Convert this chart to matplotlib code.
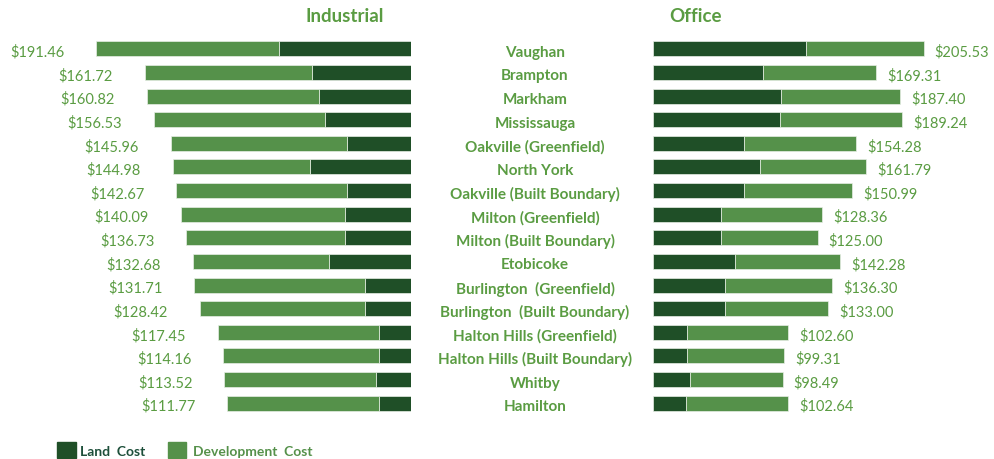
import numpy as np
import matplotlib.pyplot as plt
from matplotlib.patches import Rectangle

plt.rcParams['font.family'] = ['Lato', 'DejaVu Sans']

# data, per municipality, top to bottom
cities = ['Vaughan', 'Brampton', 'Markham', 'Mississauga', 'Oakville (Greenfield)',
          'North York', 'Oakville (Built Boundary)', 'Milton (Greenfield)',
          'Milton (Built Boundary)', 'Etobicoke', 'Burlington  (Greenfield)',
          'Burlington  (Built Boundary)', 'Halton Hills (Greenfield)',
          'Halton Hills (Built Boundary)', 'Whitby', 'Hamilton']

ind_total = [191.46, 161.72, 160.82, 156.53, 145.96, 144.98, 142.67, 140.09,
             136.73, 132.68, 131.71, 128.42, 117.45, 114.16, 113.52, 111.77]
ind_land = [80.4, 60.5, 56.0, 52.4, 38.8, 61.5, 39.2, 40.2,
            40.2, 49.7, 28.0, 28.0, 19.5, 19.5, 21.5, 19.5]

off_total = [205.53, 169.31, 187.40, 189.24, 154.28, 161.79, 150.99, 128.36,
             125.00, 142.28, 136.30, 133.00, 102.60, 99.31, 98.49, 102.64]
off_land = [116.0, 83.6, 97.3, 96.8, 68.9, 81.5, 68.9, 51.4,
            51.4, 62.6, 54.5, 54.5, 25.6, 25.6, 28.1, 24.8]

dark = '#1f4f27'
light = '#55914a'
txt = '#5a9c42'

W, H = 994, 459
fig = plt.figure(figsize=(W / 100, H / 100), dpi=100)

y = np.arange(len(cities))
ind_total = np.array(ind_total)
ind_land = np.array(ind_land)
off_total = np.array(off_total)
off_land = np.array(off_land)

ax_bot = (H - 415) / H
ax_h = 378 / H
bh = 0.64

# Industrial (bars grow to the left)
axL = fig.add_axes([0, ax_bot, 411 / W, ax_h])
axL.barh(y, ind_land, height=bh, color=dark, edgecolor='#e8efe6', linewidth=0.5)
axL.barh(y, ind_total - ind_land, left=ind_land, height=bh, color=light,
         edgecolor='#e8efe6', linewidth=0.5)
axL.set_xlim(250, 0)
axL.set_ylim(15.5, -0.5)
for yi, v in zip(y, ind_total):
    axL.annotate(f'${v:.2f}', (v, yi), xytext=(-23, -2.5), textcoords='offset points',
                 ha='right', va='center', color=txt, fontsize=10.5)
axL.axis('off')

# Office (bars grow to the right)
axR = fig.add_axes([653 / W, ax_bot, (W - 653) / W, ax_h])
axR.barh(y, off_land, height=bh, color=dark, edgecolor='#e8efe6', linewidth=0.5)
axR.barh(y, off_total - off_land, left=off_land, height=bh, color=light,
         edgecolor='#e8efe6', linewidth=0.5)
axR.set_xlim(0, 259)
axR.set_ylim(15.5, -0.5)
for yi, v in zip(y, off_total):
    axR.annotate(f'${v:.2f}', (v, yi), xytext=(8, -2.5), textcoords='offset points',
                 ha='left', va='center', color=txt, fontsize=10.5)
axR.axis('off')

# city names in the middle (sit a few pixels below the bar centres)
for yi, c in zip(y, cities):
    yy = axL.transData.transform((0, yi))[1] - 4
    fig.text(535 / W, yy / H, c, ha='center', va='center', color=txt,
             fontsize=11, fontweight='bold')

fig.text(345 / W, 1 - 17 / H, 'Industrial', ha='center', va='center',
         color=txt, fontsize=13.5, fontweight='bold')
fig.text(696 / W, 1 - 17 / H, 'Office', ha='center', va='center',
         color=txt, fontsize=13.5, fontweight='bold')

# legend
fig.patches.append(Rectangle((57 / W, (H - 458) / H), 19 / W, 16 / H,
                             transform=fig.transFigure, color=dark))
fig.text(80 / W, 1 - 452 / H, 'Land  Cost', ha='left', va='center',
         color='#1d4f3a', fontsize=10, fontweight='bold')
fig.patches.append(Rectangle((168 / W, (H - 458) / H), 18 / W, 16 / H,
                             transform=fig.transFigure, color=light))
fig.text(193 / W, 1 - 452 / H, 'Development  Cost', ha='left', va='center',
         color=light, fontsize=10, fontweight='bold')

plt.savefig('out.png', dpi=100)
